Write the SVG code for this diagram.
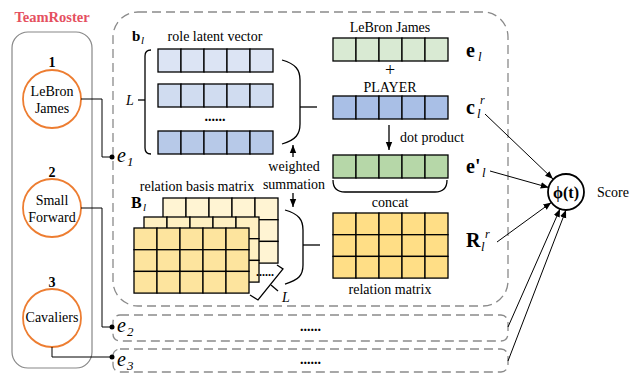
<svg xmlns="http://www.w3.org/2000/svg" xmlns:xlink="http://www.w3.org/1999/xlink" width="632" height="375" viewBox="0 0 632 375" font-family="'Liberation Serif', 'DejaVu Serif', serif">
<style>
text{font-family:'Liberation Serif','DejaVu Serif',serif;fill:#000}
.lb{font-size:14px}
.mid{text-anchor:middle}
.bd{font-weight:bold}
.it{font-style:italic}
.cell{stroke:#000;stroke-width:1.3}
.dash{fill:none;stroke:#8a8a8a;stroke-width:1.3;stroke-dasharray:9 5}
.ln{fill:none;stroke:#000;stroke-width:1.3}
.thin{fill:none;stroke:#000;stroke-width:1}
.node{fill:#fff;stroke:#ed7d31;stroke-width:1.8}
</style>
<defs>
<g id="row5">
<rect class="cell" x="0" y="0" width="23" height="23"/>
<rect class="cell" x="23" y="0" width="23" height="23"/>
<rect class="cell" x="46" y="0" width="23" height="23"/>
<rect class="cell" x="69" y="0" width="23" height="23"/>
<rect class="cell" x="92" y="0" width="23" height="23"/>
</g>
<g id="mrow">
<rect class="cell" x="0" y="0" width="23" height="21.7"/>
<rect class="cell" x="23" y="0" width="23" height="21.7"/>
<rect class="cell" x="46" y="0" width="23" height="21.7"/>
<rect class="cell" x="69" y="0" width="23" height="21.7"/>
<rect class="cell" x="92" y="0" width="23" height="21.7"/>
</g>
<g id="mat">
<use xlink:href="#mrow" y="0"/>
<use xlink:href="#mrow" y="21.7"/>
<use xlink:href="#mrow" y="43.4"/>
</g>
<marker id="ah" viewBox="0 0 10 10" refX="10" refY="5" markerWidth="8" markerHeight="8" markerUnits="userSpaceOnUse" orient="auto">
<path d="M0,1 L10,5 L0,9 z" fill="#000"/>
</marker>
</defs>

<!-- Team roster -->
<g id="teamroster">
<text x="52" y="22" class="mid bd" style="font-size:14.5px;fill:#e5505f">TeamRoster</text>
<rect x="12" y="32" width="80" height="336" rx="16" fill="none" stroke="#888" stroke-width="1.2"/>
</g>
<g id="node1">
<text x="52" y="67" class="lb mid bd">1</text>
<circle class="node" cx="52" cy="99" r="29"/>
<text x="52" y="96" class="lb mid">LeBron</text>
<text x="52" y="113" class="lb mid">James</text>
</g>
<g id="node2">
<text x="52" y="177" class="lb mid bd">2</text>
<circle class="node" cx="52" cy="208" r="29"/>
<text x="52" y="205" class="lb mid">Small</text>
<text x="52" y="222" class="lb mid">Forward</text>
</g>
<g id="node3">
<text x="52" y="287" class="lb mid bd">3</text>
<circle class="node" cx="52" cy="318" r="29"/>
<text x="52" y="322" class="lb mid">Cavaliers</text>
</g>

<!-- main dashed container -->
<g id="block1">
<rect class="dash" x="113" y="12" width="395" height="294" rx="25"/>
<text x="132" y="41" class="bd" style="font-size:15px">b</text>
<text x="141" y="44" class="it" style="font-size:11px">l</text>
<text x="215" y="41" class="lb mid">role latent vector</text>
</g>

<g id="role-vectors">
<use xlink:href="#row5" x="158" y="49" fill="#dce4f4"/>
<use xlink:href="#row5" x="158" y="84" fill="#d0dcf0"/>
<text x="215" y="121" class="lb mid bd">......</text>
<use xlink:href="#row5" x="158" y="131" fill="#b7c9e8"/>
<path class="ln" d="M151,50 Q145,50 145,56 V148 Q145,154 151,154"/>
<path class="ln" d="M138,100 H145"/>
<text x="126" y="105" class="lb it">L</text>
<path class="ln" d="M282,60 C296,64 300,70 300,80 V124 C300,134 296,140 282,144"/>
<path class="ln" d="M300,107 H317"/>
</g>

<g id="weighted">
<text x="294" y="171" class="lb mid">weighted</text>
<text x="294" y="189" class="lb mid">summation</text>
</g>

<g id="basis-matrices">
<text x="197" y="191" class="lb mid">relation basis matrix</text>
<text x="131" y="208" class="bd" style="font-size:16px">B</text>
<text x="143" y="211" class="it" style="font-size:11px">l</text>
<use xlink:href="#mat" x="163" y="198" fill="#fff4d3"/>
<use xlink:href="#mat" x="144" y="217" fill="#fff0c2"/>
<use xlink:href="#mat" x="134" y="228" fill="#fde49e"/>
<text x="265" y="276" class="mid bd" style="font-size:12px">......</text>
<path class="ln" d="M250,295 L258,300 L283,269 L277,265"/>
<path class="ln" d="M271,285 L278,291"/>
<text x="282" y="302" class="lb it">L</text>
<path class="ln" d="M285,210 C299,214 303,220 303,230 V265 C303,275 299,280 285,284"/>
<path class="ln" d="M303,245 H320"/>
</g>

<g id="entity-vectors">
<text x="390" y="32" class="lb mid">LeBron James</text>
<use xlink:href="#row5" x="333" y="38" fill="#d9ead3"/>
<text x="390" y="76" class="mid" style="font-size:18px">+</text>
<text x="390" y="92" class="lb mid">PLAYER</text>
<use xlink:href="#row5" x="333" y="96" fill="#a9bfe6"/>
<text x="400" y="142" class="lb">dot product</text>
<use xlink:href="#row5" x="333" y="155" fill="#b6d7a8"/>
<path class="ln" d="M333,180 Q333,192 345,192 H435 Q447,192 447,180"/>
<text x="390" y="207" class="lb mid">concat</text>
<use xlink:href="#mat" x="333" y="213" fill="#ffde86"/>
<text x="390" y="294" class="lb mid">relation matrix</text>
</g>

<g id="labels-right">
<text x="466" y="57" class="bd" style="font-size:20px">e</text>
<text x="478" y="61" class="it" style="font-size:13px">l</text>
<text x="466" y="114" class="bd" style="font-size:20px">c</text>
<text x="477" y="118" class="it" style="font-size:13px">l</text>
<text x="480" y="104" class="it" style="font-size:12px">r</text>
<text x="466" y="173" class="bd" style="font-size:20px">e'</text>
<text x="482" y="177" class="it" style="font-size:13px">l</text>
<text x="466" y="247" class="bd" style="font-size:20px">R</text>
<text x="481" y="251" class="it" style="font-size:13px">l</text>
<text x="485" y="238" class="it" style="font-size:12px">r</text>
</g>

<g id="row-e2">
<rect class="dash" x="113" y="315" width="395" height="26" rx="7"/>
<text x="300" y="331" class="lb bd">......</text>
</g>
<g id="row-e3">
<rect class="dash" x="113" y="349" width="395" height="23" rx="7"/>
<text x="300" y="364" class="lb bd">......</text>
</g>

<g id="entity-labels">
<text x="117" y="162" class="it" style="font-size:20px">e</text>
<text x="127" y="166" class="it" style="font-size:13px">1</text>
<text x="117" y="332" class="it" style="font-size:20px">e</text>
<text x="127" y="336" class="it" style="font-size:13px">2</text>
<text x="117" y="366" class="it" style="font-size:20px">e</text>
<text x="127" y="370" class="it" style="font-size:13px">3</text>
</g>

<g id="score">
<circle cx="566" cy="192" r="18" fill="#fff" stroke="#000" stroke-width="1.8"/>
<text x="566" y="198" class="mid bd" style="font-size:16px">ϕ(t)</text>
<text x="597" y="197" class="lb">Score</text>
</g>

<g id="connectors">
<path class="thin" d="M81,99 H102 V157 H112"/>
<path class="thin" d="M81,208 H102 V327 H112"/>
<path class="thin" d="M52,347 V357 H112"/>
<circle cx="112" cy="157" r="2.5" fill="#000"/>
<circle cx="112" cy="327" r="2.5" fill="#000"/>
<circle cx="112" cy="357" r="2.5" fill="#000"/>
<path class="ln" d="M293,157 V145" marker-end="url(#ah)"/>
<path class="ln" d="M293,193 V207" marker-end="url(#ah)"/>
<path class="ln" d="M389,125 V150" marker-end="url(#ah)"/>
<path class="thin" d="M485,114 L553,179" marker-end="url(#ah)"/>
<path class="thin" d="M490,171 L548.7,187.5" marker-end="url(#ah)"/>
<path class="thin" d="M497,242 L551.3,202.5" marker-end="url(#ah)"/>
<path class="thin" d="M508,327 L560,209" marker-end="url(#ah)"/>
<path class="thin" d="M508,361 L566,210" marker-end="url(#ah)"/>
</g>
</svg>
